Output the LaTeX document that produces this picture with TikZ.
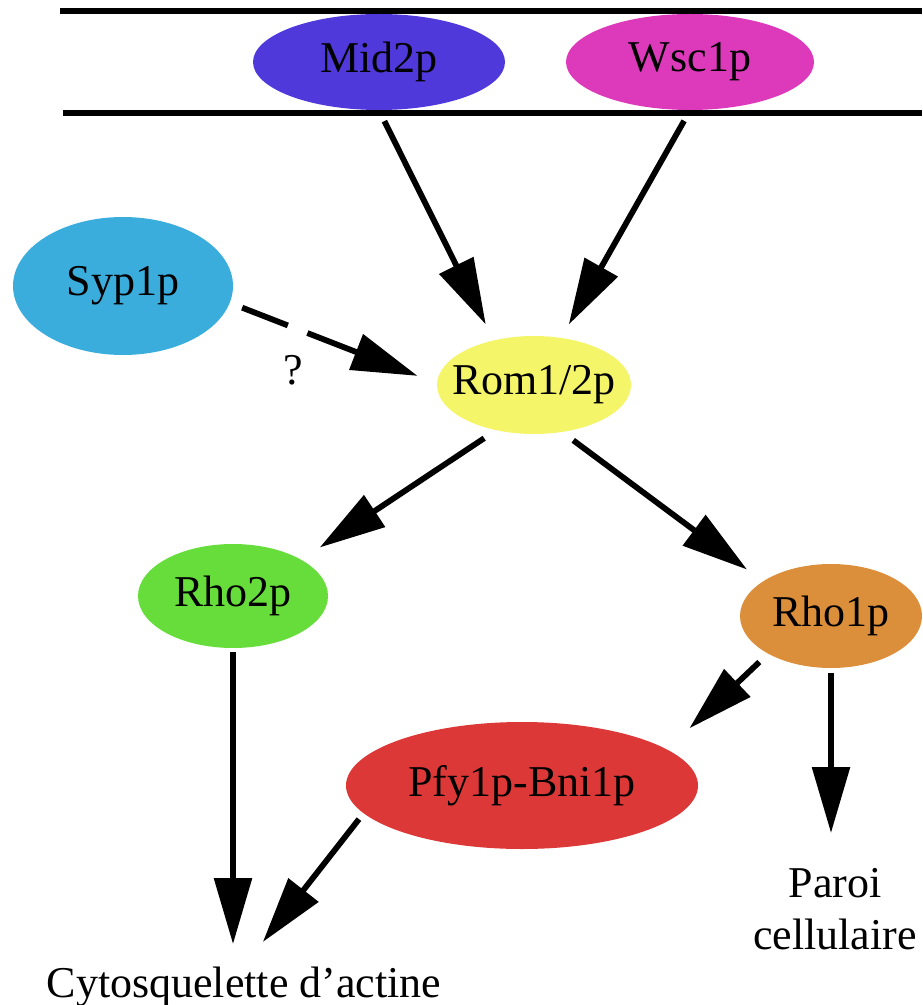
\documentclass[tikz,border=0pt]{standalone}
\usepackage{fontspec}
\setmainfont{Liberation Serif}
\usetikzlibrary{shapes.geometric,arrows.meta}
\definecolor{midc}{HTML}{5039DB}
\definecolor{wscc}{HTML}{DD3ABB}
\definecolor{sypc}{HTML}{3AADDC}
\definecolor{romc}{HTML}{F5F56A}
\definecolor{rhotwoc}{HTML}{66DD3B}
\definecolor{rhoonec}{HTML}{DC8F3A}
\definecolor{pfyc}{HTML}{DC3838}
\begin{document}
\begin{tikzpicture}[x=0.5pt,y=-0.5pt,
  blob/.style={ellipse, inner sep=0pt, draw=none, font=\fontsize{22}{26}\selectfont},
  lbl/.style={inner sep=0pt, font=\fontsize{22}{26}\selectfont},
  arr/.style={line width=2.9pt, -{Triangle[length=33pt,width=18.5pt]}},
  membrane/.style={line width=3pt}]
\useasboundingbox (0,0) rectangle (922,1005);
% membrane
\draw[membrane] (60,11) -- (922,11);
\draw[membrane] (63,113) -- (922,113);
% nodes
\node[blob, fill=midc, minimum width=126pt, minimum height=48pt] (mid) at (379,62) {Mid2p};
\node[blob, fill=wscc, minimum width=124pt, minimum height=48pt] (wsc) at (690,62) {Wsc1p};
\node[blob, fill=sypc, minimum width=110pt, minimum height=69pt] (syp) at (123,286) {Syp1p};
\node[blob, fill=romc, inner xsep=-7.5pt, minimum width=97pt, minimum height=49pt] (rom) at (534,385) {Rom1/2p};
\node[blob, fill=rhotwoc, minimum width=95pt, minimum height=52pt] (rho2) at (233,596) {Rho2p};
\node[blob, fill=rhoonec, minimum width=91pt, minimum height=52pt] (rho1) at (831,616) {Rho1p};
\node[blob, fill=pfyc, minimum width=176pt, minimum height=63.5pt] (pfy) at (522,785.5) {Pfy1p-Bni1p};
\node[lbl] (q) at (293,370) {?};
\node[lbl, anchor=base] (cyto) at (244,997) {Cytosquelette d’actine};
\node[lbl, align=center, anchor=north] (paroi) at (835,868) {Paroi\\cellulaire};
% connectors
\draw[arr, shorten <=6pt, shorten >=8.75pt] (mid.south) -- (rom.132);
\draw[arr, shorten <=6pt, shorten >=7.5pt] (wsc.south) -- (rom.60);
\draw[arr, dash pattern=on 24.5pt off 10.5pt on 300pt, shorten <=6.5pt, shorten >=10.25pt] (syp.-9) -- (rom.179);
\draw[arr, shorten <=7pt, shorten >=10.9pt] (rom.230) -- (rho2.28);
\draw[arr, shorten <=6.75pt, shorten >=9.75pt] (rom.-59) -- (rho1.153);
\draw[arr, shorten <=2pt, shorten >=11pt] (rho2.south) -- (rho2.south |- cyto.north);
\draw[arr, shorten <=3.6pt, shorten >=15.3pt] (pfy.190) -- (cyto.north);
\draw[arr, shorten <=5.9pt, shorten >=15.25pt] (rho1.211) -- (pfy.14);
\draw[arr, shorten <=2.5pt, shorten >=17.5pt] (rho1.south) -- (rho1.south |- paroi.north);
\end{tikzpicture}
\end{document}
